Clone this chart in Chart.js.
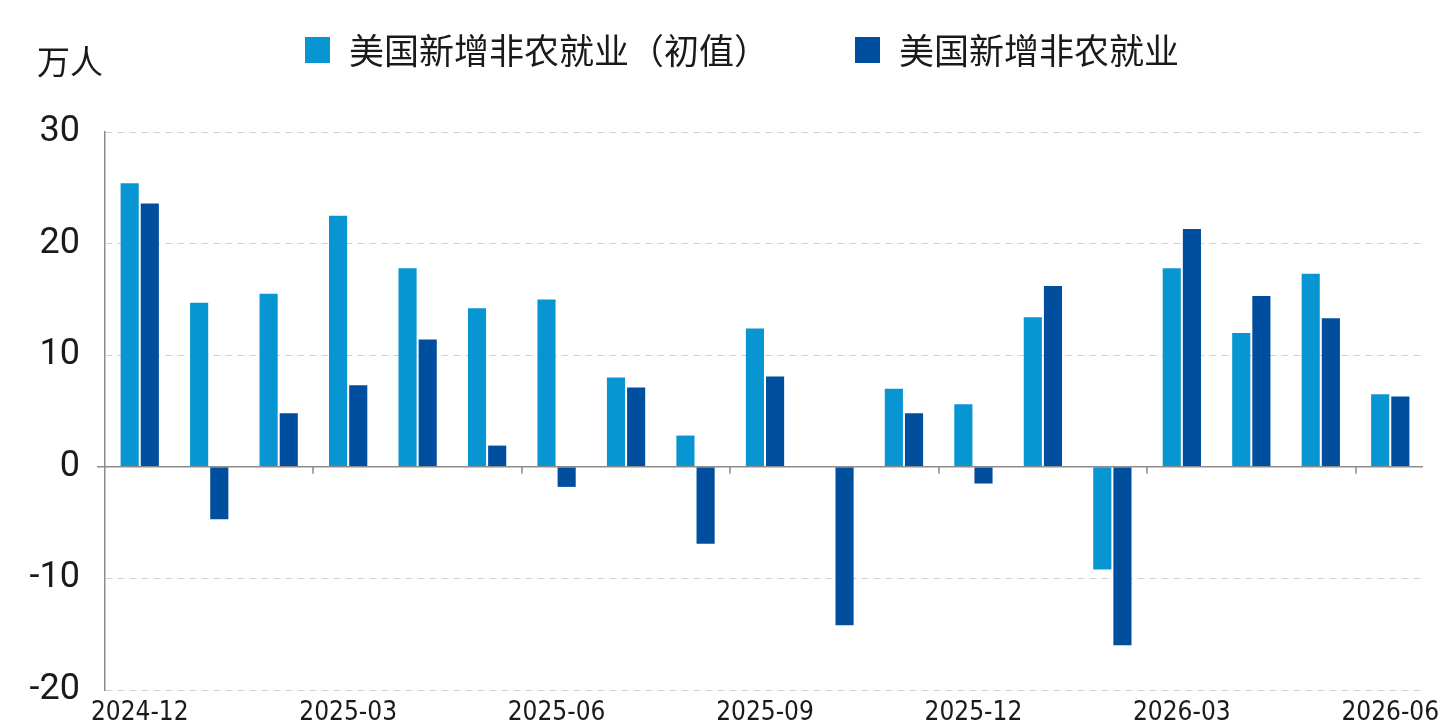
<!DOCTYPE html>
<html>
<head>
<meta charset="utf-8">
<script src="https://cdn.jsdelivr.net/npm/chart.js@4.4.1/dist/chart.umd.min.js"></script>
<style>
  html, body { margin: 0; padding: 0; background: #fff; }
  .chart-frame { position: relative; width: 1452px; height: 725px; }
</style>
</head>
<body>
<div class="chart-frame"><canvas id="payrolls" aria-label="美国新增非农就业"></canvas></div>
<script>
const months = ['2024-12', '2025-01', '2025-02', '2025-03', '2025-04', '2025-05', '2025-06', '2025-07', '2025-08', '2025-09',
  '2025-10', '2025-11', '2025-12', '2026-01', '2026-02', '2026-03', '2026-04', '2026-05', '2026-06'];
const initialPrint = [25.4, 14.7, 15.5, 22.5, 17.8, 14.2, 15.0, 8.0, 2.8, 12.4, null, 7.0, 5.6, 13.4, -9.2, 17.8, 12.0, 17.3, 6.5];
const revisedPrint = [23.6, -4.7, 4.8, 7.3, 11.4, 1.9, -1.8, 7.1, -6.9, 8.1, -14.2, 4.8, -1.5, 16.2, -16.0, 21.3, 15.3, 13.3, 6.3];
const seriesNames = ['美国新增非农就业（初值）', '美国新增非农就业'];
const yTicks = [-20, -10, 0, 10, 20, 30];
const unitLabel = '万人';
const labelEvery = 3;

const lightBlue = '#0896d3';
const darkBlue = '#004f9f';
const axisGray = '#8c8c8c';
const cjkFont = '"Noto Sans CJK SC", "Noto Sans", sans-serif';

// legend + unit text drawn by hand so they sit where the original has them
const headerPlugin = {
  id: 'header',
  afterDraw(chart) {
    const { ctx } = chart;
    ctx.save();
    ctx.fillStyle = '#1a1a1a';
    ctx.textBaseline = 'middle';
    ctx.font = `33px ${cjkFont}`;
    ctx.fillText(unitLabel, 37, 61);
    ctx.font = `35px ${cjkFont}`;
    let x = 305;
    chart.data.datasets.forEach((ds) => {
      ctx.fillStyle = ds.backgroundColor;
      ctx.fillRect(x, 37, 25, 26);
      ctx.fillStyle = '#1a1a1a';
      ctx.fillText(ds.label, x + 44, 51);
      x += 44 + ctx.measureText(ds.label).width + 86;
    });
    ctx.restore();
  }
};

// solid zero line with short ticks between quarter groups
const zeroLinePlugin = {
  id: 'zeroLine',
  afterDatasetsDraw(chart) {
    const { ctx, chartArea } = chart;
    const xs = chart.scales.x;
    const y0 = chart.scales.y.getPixelForValue(0);
    ctx.save();
    ctx.strokeStyle = axisGray;
    ctx.lineWidth = 1.5;
    ctx.beginPath();
    ctx.moveTo(chartArea.left - 8, y0);
    ctx.lineTo(chartArea.right - 2, y0);
    for (let i = labelEvery; i < months.length; i += labelEvery) {
      const xb = Math.round((xs.getPixelForValue(i - 1) + xs.getPixelForValue(i)) / 2);
      ctx.moveTo(xb, y0);
      ctx.lineTo(xb, y0 + 7);
    }
    ctx.stroke();
    ctx.restore();
  }
};

new Chart(document.getElementById('payrolls'), {
  type: 'bar',
  data: {
    labels: months,
    datasets: [
      { label: seriesNames[0], data: initialPrint, backgroundColor: lightBlue },
      { label: seriesNames[1], data: revisedPrint, backgroundColor: darkBlue }
    ]
  },
  options: {
    responsive: true,
    maintainAspectRatio: false,
    animation: false,
    barPercentage: 0.9,
    categoryPercentage: 0.58,
    layout: { padding: { top: 132, right: 27, bottom: 0, left: 0 } },
    plugins: { legend: { display: false }, tooltip: { enabled: false } },
    scales: {
      x: {
        grid: { display: false },
        border: { display: false },
        afterFit: (scale) => { scale.height = 35; },
        ticks: {
          autoSkip: false,
          maxRotation: 0,
          padding: 0,
          color: '#1a1a1a',
          font: { family: '"Liberation Sans Narrow", "DejaVu Sans Condensed", Roboto, sans-serif', size: 26 },
          callback: (value, index) => (index % labelEvery === 0 ? months[index] : '')
        }
      },
      y: {
        min: yTicks[0],
        max: yTicks[yTicks.length - 1],
        afterFit: (scale) => {
          scale.width = 105;
          scale.paddingTop = 0;
          scale.paddingBottom = 0;
        },
        afterBuildTicks: (scale) => { scale.ticks = yTicks.map((v) => ({ value: v })); },
        grid: {
          drawTicks: false,
          color: (ctx) => (ctx.tick && ctx.tick.value === 0 ? 'rgba(0,0,0,0)' : '#d0d0d0'),
          lineWidth: 1
        },
        border: { display: true, color: axisGray, width: 1.5, dash: [7, 5] },
        ticks: {
          padding: 25,
          color: '#1a1a1a',
          font: { family: 'Roboto, "Liberation Sans", sans-serif', size: 36 }
        }
      }
    }
  },
  plugins: [headerPlugin, zeroLinePlugin]
});
</script>
</body>
</html>
